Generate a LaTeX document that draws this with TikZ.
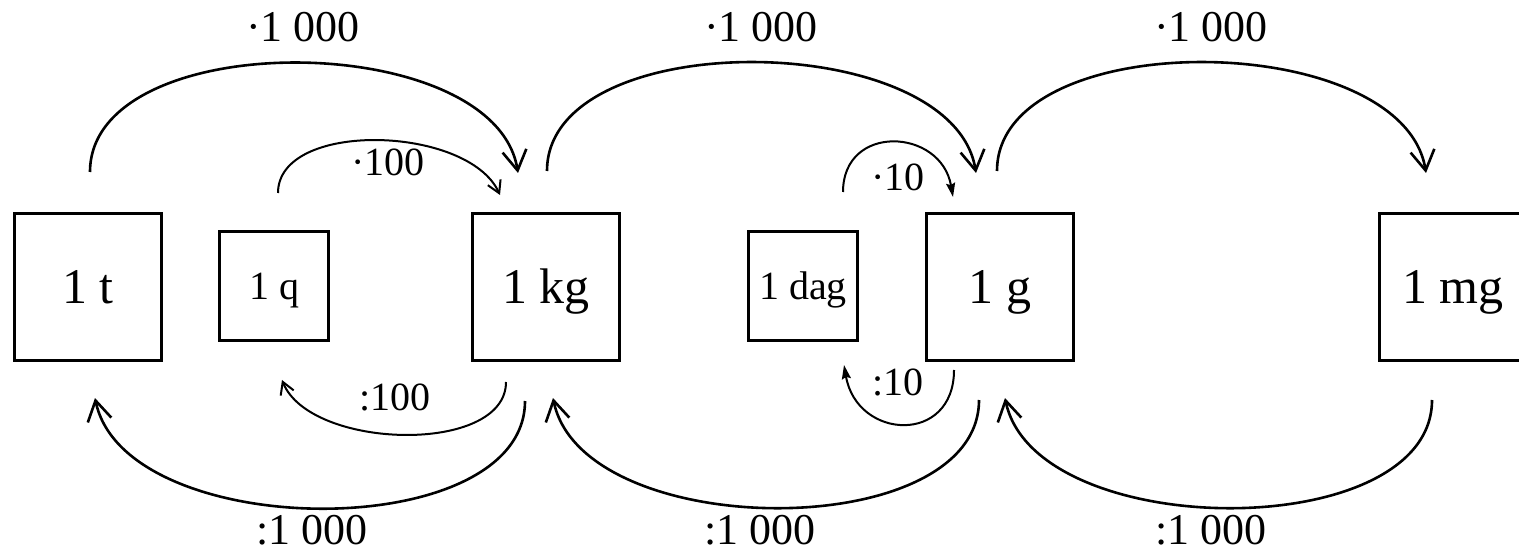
\documentclass[tikz,border=0pt]{standalone}
\usepackage{fontspec}
\setmainfont{Liberation Serif}
\usetikzlibrary{calc,arrows.meta}
\begin{document}
\begin{tikzpicture}[x=0.5pt,y=-0.5pt,
  bigbox/.style={draw,line width=1.5pt,minimum size=73.5pt,inner sep=0pt,font=\fontsize{25}{30}\selectfont,text height=16.8pt,text depth=0pt},
  smallbox/.style={draw,line width=1.5pt,minimum size=54.5pt,inner sep=0pt,font=\fontsize{20}{24}\selectfont,text height=13.4pt,text depth=0pt},
  bigarrow/.style={line width=1.3pt,-{Straight Barb[length=10pt,width=12pt]}},
  midarrow/.style={line width=1pt,-{Straight Barb[length=6pt,width=7pt]}},
  smallarrow/.style={line width=1pt,-{Stealth[length=7pt,width=4.5pt,inset=1pt]}},
  biglabel/.style={font=\fontsize{22}{26}\selectfont,inner sep=0pt,text height=14.8pt,text depth=0pt},
  smalllabel/.style={font=\fontsize{20}{24}\selectfont,inner sep=0pt,text height=13.4pt,text depth=0pt}]
\clip (0,0) rectangle (1519,555);
% boxes
\node[bigbox] (t) at (88,287) {1 t};
\node[smallbox] (q) at (274,286) {1 q};
\node[bigbox] (kg) at (546,287) {1 kg};
\node[smallbox] (dag) at (803,286) {1 dag};
\node[bigbox] (g) at (1000,287) {1 g};
\node[bigbox] (mg) at (1453,287) {1 mg};
% upper arrows
\draw[bigarrow] ($(t)+(2,-115)$) .. controls +(0,-147) and +(-23,-145) .. ($(kg)+(-28,-114)$);
\draw[midarrow] ($(q)+(4,-93)$) .. controls +(0,-73) and +(-32,-70) .. ($(kg)+(-46,-92)$);
\draw[bigarrow] ($(kg)+(1,-116)$) .. controls +(0,-147) and +(-23,-145) .. ($(g)+(-24,-114)$);
\draw[smallarrow] ($(dag)+(40,-94)$) .. controls +(0,-69) and +(-12,-69) .. ($(g)+(-47,-90)$);
\draw[bigarrow] ($(g)+(-3,-116)$) .. controls +(0,-147) and +(-23,-145) .. ($(mg)+(-27,-114)$);
% lower arrows
\draw[bigarrow] ($(kg)+(-21,114)$) .. controls +(0,145) and +(30,145) .. ($(t)+(7,111)$);
\draw[midarrow] ($(kg)+(-40,95)$) .. controls +(0,73) and +(28,70) .. ($(q)+(8,94)$);
\draw[bigarrow] ($(g)+(-21,113)$) .. controls +(0,145) and +(30,145) .. ($(kg)+(7,111)$);
\draw[smallarrow] ($(g)+(-46,83)$) .. controls +(0,75) and +(13,75) .. ($(dag)+(41,79)$);
\draw[bigarrow] ($(mg)+(-21,113)$) .. controls +(0,145) and +(30,145) .. ($(g)+(5,111)$);
% labels
\node[biglabel] (l1) at (303,27) {·1 000};
\node[biglabel] (l2) at (761,27) {·1 000};
\node[biglabel] (l3) at (1211,27) {·1 000};
\node[smalllabel] (l4) at (388,162) {·100};
\node[smalllabel] (l5) at (898,177) {·10};
\node[smalllabel] (l6) at (395,397) {:100};
\node[smalllabel] (l7) at (898,382) {:10};
\node[biglabel] (l8) at (312,530) {:1 000};
\node[biglabel] (l9) at (760,530) {:1 000};
\node[biglabel] (l10) at (1211,530) {:1 000};
\end{tikzpicture}
\end{document}
